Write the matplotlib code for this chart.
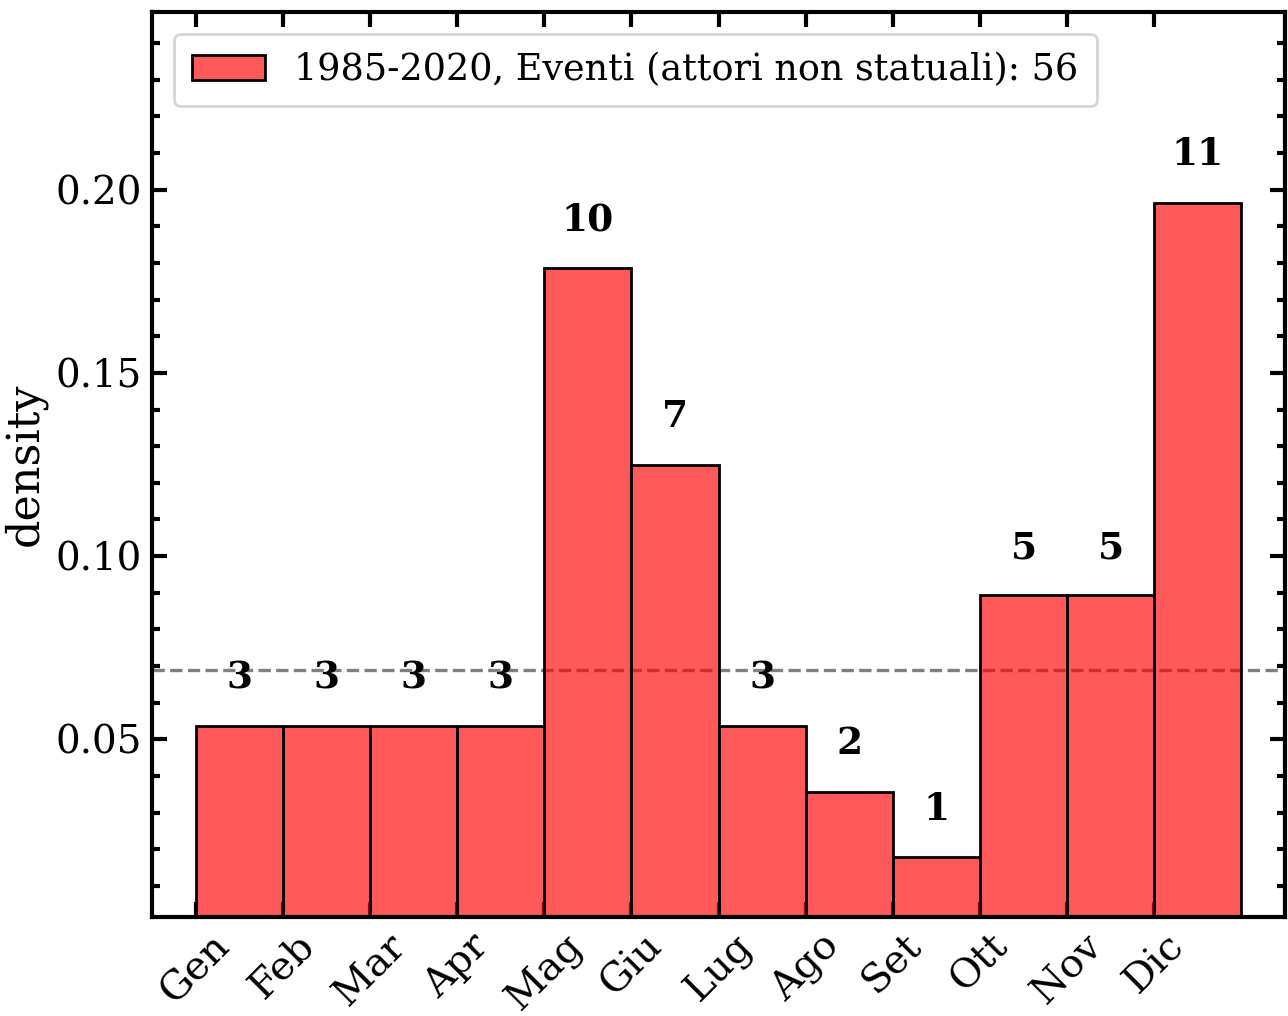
import matplotlib
matplotlib.use("Agg")
import matplotlib.pyplot as plt
import numpy as np
from matplotlib.ticker import MultipleLocator

plt.rcParams['font.family'] = ['DejaVu Serif']

months = ["Gen", "Feb", "Mar", "Apr", "Mag", "Giu", "Lug", "Ago", "Set", "Ott", "Nov", "Dic"]
counts = [3, 3, 3, 3, 10, 7, 3, 2, 1, 5, 5, 11]
reference_level = 0.0689
legend_label = "1985-2020, Eventi (attori non statuali): 56"

total = sum(counts)
density = [c / total for c in counts]
month_idx = np.arange(1, len(months) + 1)

fig = plt.figure(figsize=(6.44, 5.08), dpi=200)
ax = fig.add_axes([152 / 1288, 99 / 1016, 1133 / 1288, 905 / 1016])

ax.axhline(reference_level, color="gray", linestyle="--", linewidth=1.2, zorder=1)
ax.bar(month_idx, density, width=1.0, align="edge", facecolor=(1, 0, 0, 0.65),
       edgecolor="black", linewidth=1.0, label=legend_label, zorder=2)

for x, d, c in zip(month_idx, density, counts):
    ax.text(x + 0.5, d + 0.008, str(c), ha="center", va="bottom",
            fontsize=13.5, fontweight="bold")

ax.set_xlim(0.5, 13.5)
ax.set_ylim(0.0015, 0.2485)
ax.set_xticks(month_idx)
ax.set_xticklabels(months, rotation=45, ha="center", fontsize=14.3)
ax.yaxis.set_major_locator(MultipleLocator(0.05))
ax.yaxis.set_minor_locator(MultipleLocator(0.01))
ax.tick_params(axis="y", labelsize=14)
ax.tick_params(which="both", direction="in", top=True, right=True, width=1.5)
ax.tick_params(which="major", length=5.5)
ax.tick_params(which="minor", length=2.8)
ax.tick_params(axis="x", which="minor", bottom=False, top=False)
for s in ax.spines.values():
    s.set_linewidth(1.5)

ax.set_ylabel("density", fontsize=16)
ax.yaxis.set_label_coords(-0.0927, 0.5)

ax.legend(loc="upper left", fontsize=13.15, framealpha=0.8, handlelength=2.0,
          borderpad=0.5, borderaxespad=0.6)

fig.savefig("out.png", dpi=200)
